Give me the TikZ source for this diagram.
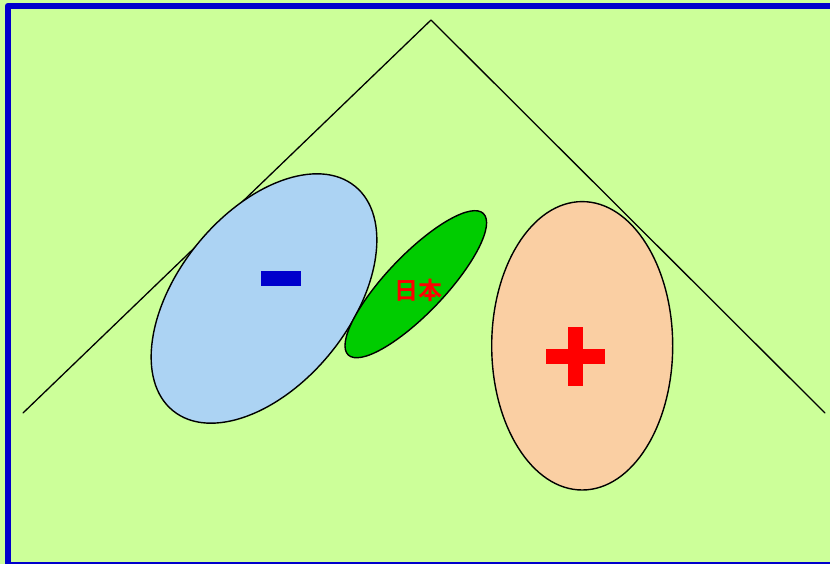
\documentclass[tikz,border=0pt]{standalone}
\usepackage{xcolor}
\usepackage{fontspec}
\newfontfamily\jpfont{Noto Sans CJK JP Bold}
\usepackage{tikz}
\usetikzlibrary{positioning}
\definecolor{meadow}{HTML}{CCFF99}
\definecolor{framebl}{HTML}{0000CC}
\definecolor{skyblue}{HTML}{ACD3F3}
\definecolor{leafgreen}{HTML}{00CC00}
\definecolor{peach}{HTML}{FACFA3}
\definecolor{signred}{HTML}{FF0000}
\tikzset{
    every picture/.style={line cap=round,line join=round},
    outline/.style={draw=black,line width=1.4pt},
    roof/.style={draw=black,line width=1.3pt},
    label/.style={text=signred,font=\jpfont\fontsize{24}{24}\selectfont,inner sep=0pt}
}
\begin{document}
\begin{tikzpicture}[x=1pt,y=-1pt]
  \useasboundingbox (0,0) rectangle (830,564);
  \fill[meadow] (0,0) rectangle (830,564);
  \draw[framebl,line width=6pt] (8,5.7) rectangle (836,565);
  % roof line
  \coordinate (left) at (23,413);
  \coordinate (apex) at (431,20);
  \coordinate (right) at (825,413);
  \draw[roof] (left) -- (apex) -- (right);
  % ellipses
  \coordinate (neg) at (264,298.5);
  \coordinate (mid) at (415.8,284.2);
  \coordinate (pos) at (582.2,345.8);
  \draw[outline,fill=skyblue,rotate around={51:(neg)}] (neg) ellipse (144.5 and 86);
  \draw[outline,fill=leafgreen,rotate around={46.3:(mid)}] (mid) ellipse (97.8 and 29.2);
  \draw[outline,fill=peach] (pos) ellipse (90.5 and 144.2);
  % signs
  \fill[framebl] (261,271) rectangle (301,286);
  \fill[signred] (546,349) rectangle (605,364);
  \fill[signred] (568,327.3) rectangle (582.7,386.3);
  \node[label] (nihon) at (418.3,290) {日本};
\end{tikzpicture}
\end{document}
